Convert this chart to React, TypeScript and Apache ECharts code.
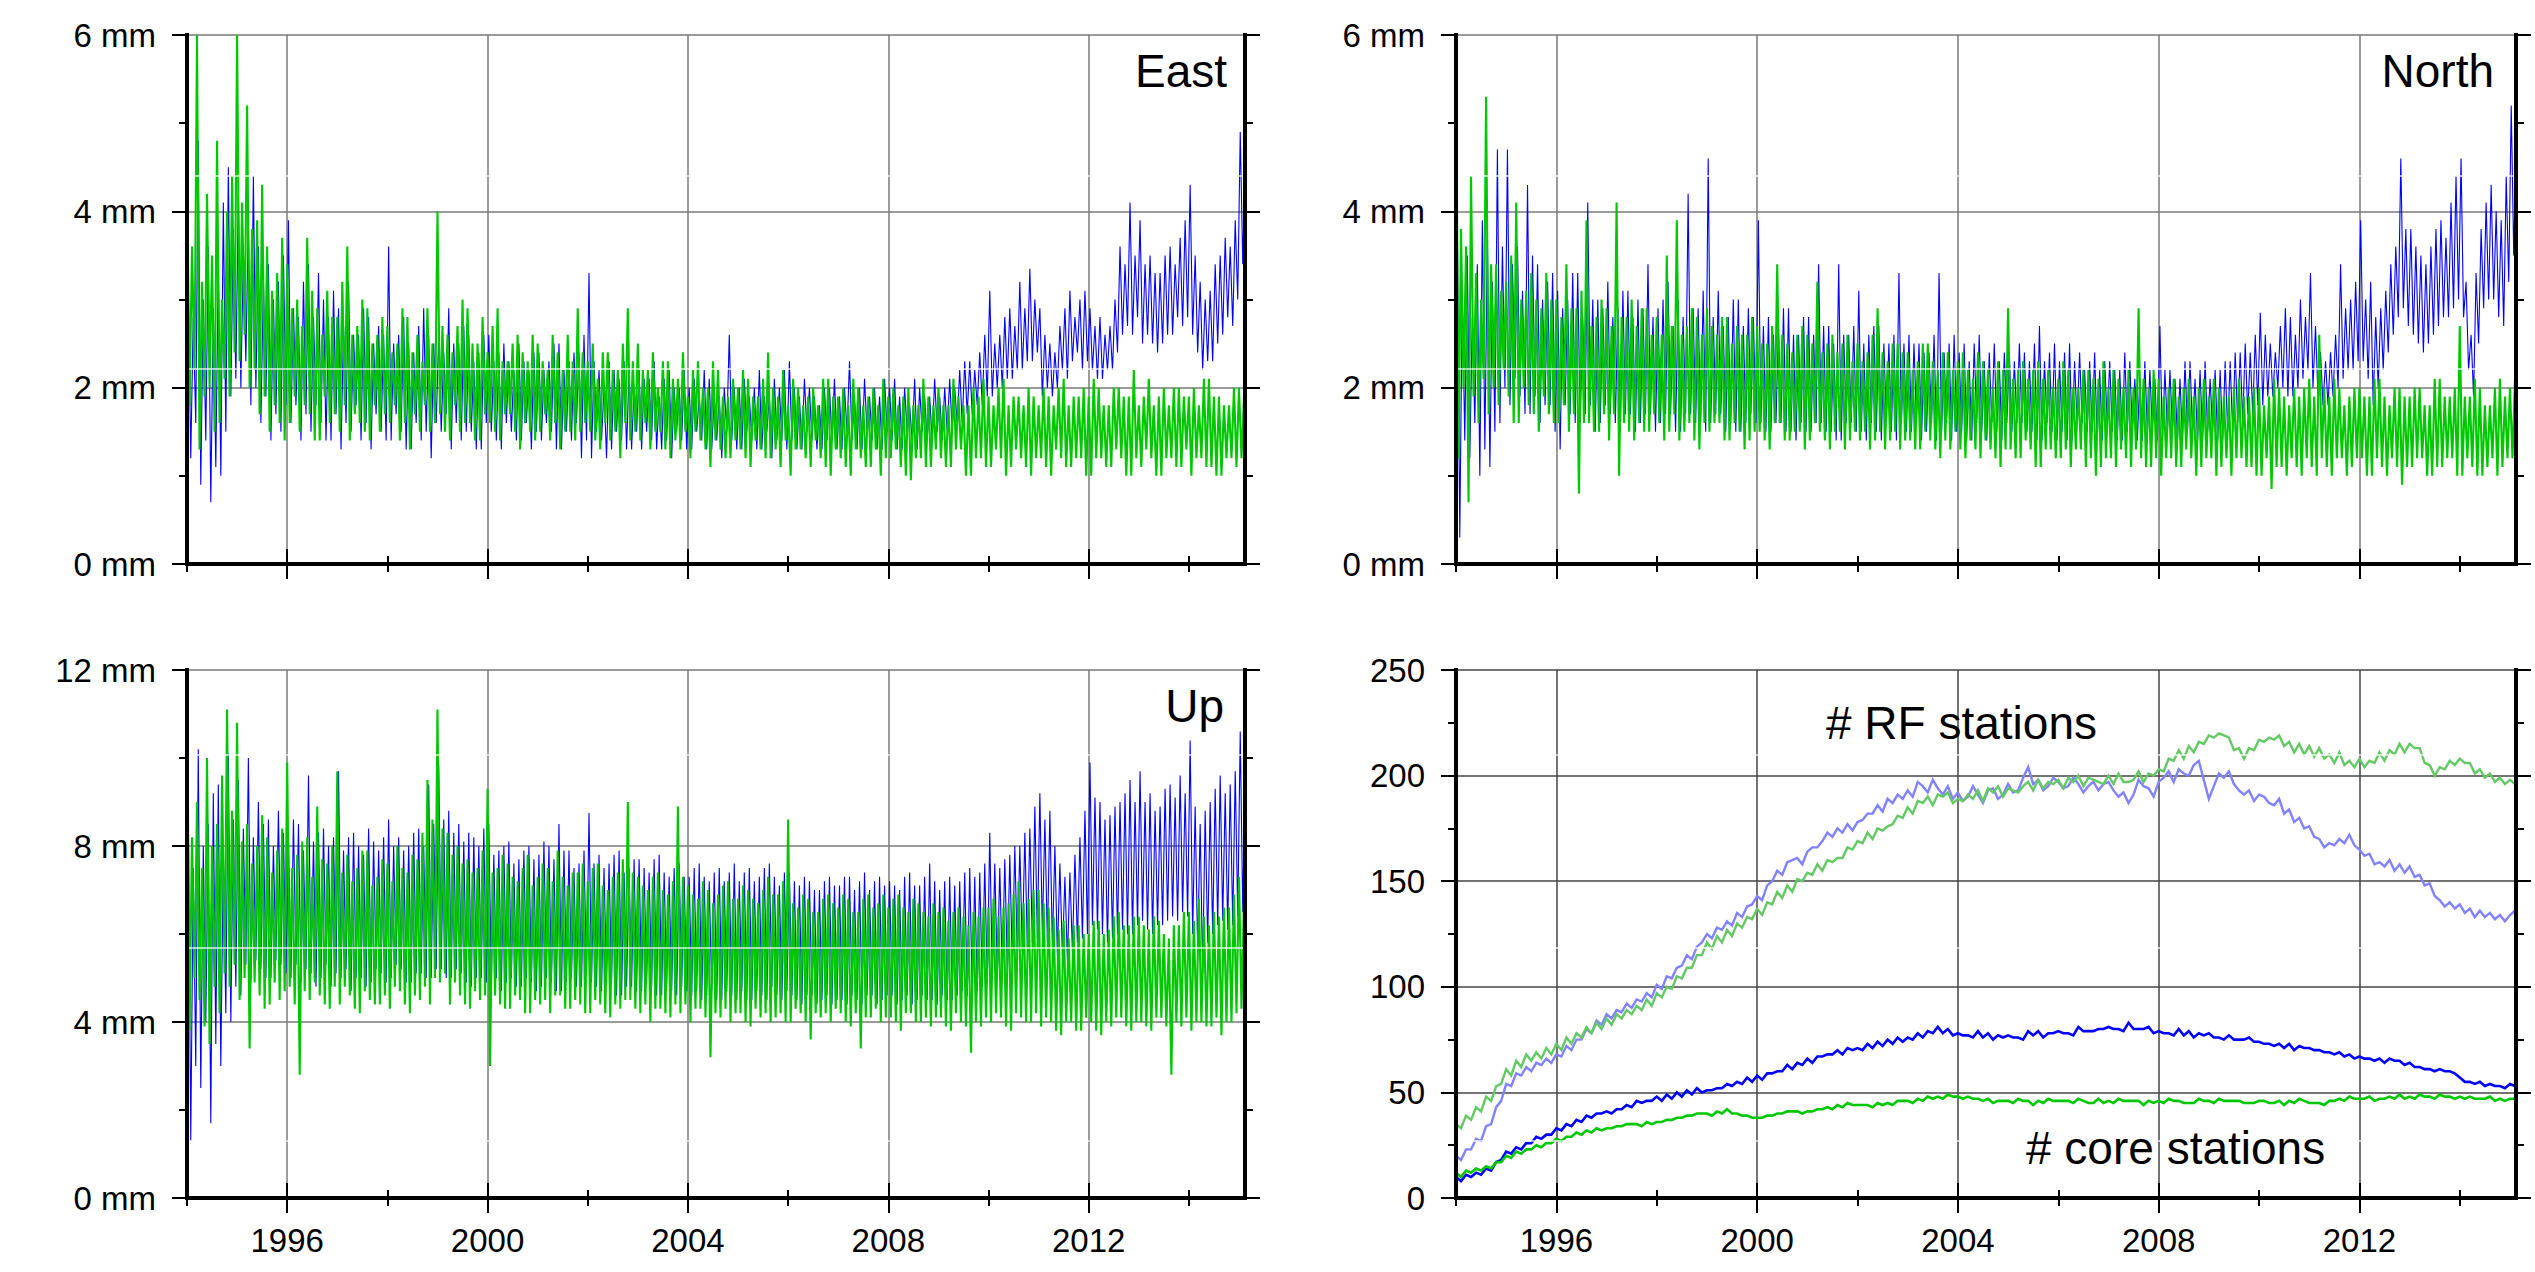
import React, { useEffect, useRef } from "react";
import * as echarts from "echarts";

const W = 2535;
const H = 1272;
const FONT = "'Liberation Sans', Arial, Helvetica, sans-serif";
const T0 = 1994;
const DT_BAND = 0.05; // step of the daily-scatter band readings
const BLUE_T0 = 1994.025;
const DT_ST = 0.1; // step of the station-count readings
const XMAX = 2015.12;
const YEAR_MAJOR = [1996, 2000, 2004, 2008, 2012];
const YEAR_MINOR = [1994, 1996, 1998, 2000, 2002, 2004, 2006, 2008, 2010, 2012, 2014];

const PANEL_TITLES = ["East", "North", "Up"];
const RF_LABEL = "# RF stations";
const CORE_LABEL = "# core stations";

// ---- daily-scatter bands, read every 0.05 yr (alternating upper / lower readings) ----
const EAST_GREEN = [
  4.5,1.8,3.6,2.2,6.0,1.3,3.2,1.9,4.2,2.0,3.5,1.5,4.8,1.6,3.0,2.1,4.0,1.9,4.4,2.4,
  6.0,2.3,4.1,2.6,5.2,2.0,3.8,2.2,3.9,1.7,4.3,1.9,3.6,1.5,3.1,1.8,3.3,1.6,3.7,1.4,
  3.4,1.6,2.9,1.9,3.0,1.5,2.7,1.8,3.7,1.7,3.1,1.4,2.9,1.4,2.6,1.9,3.1,1.6,2.8,1.7,
  2.8,1.5,3.2,1.8,3.6,1.4,2.6,1.7,2.7,1.6,3.0,1.5,2.9,1.4,2.5,1.8,2.6,1.5,2.8,1.7,
  2.7,1.6,2.4,1.8,2.5,1.4,2.9,1.6,2.8,1.3,2.4,1.7,2.6,1.5,2.3,1.8,2.9,1.5,2.5,1.6,
  4.0,1.7,2.7,1.5,2.6,1.4,2.4,1.8,2.7,1.5,3.0,1.6,2.9,1.6,2.5,1.4,2.5,1.4,2.8,1.7,
  2.4,1.6,2.7,1.5,2.9,1.4,2.3,1.7,2.3,1.7,2.5,1.5,2.6,1.3,2.4,1.6,2.3,1.5,2.6,1.4,
  2.5,1.5,2.3,1.7,2.2,1.4,2.6,1.6,2.4,1.3,2.2,1.5,2.6,1.5,2.3,1.4,2.9,1.5,2.4,1.6,
  2.3,1.5,2.5,1.4,2.1,1.3,2.4,1.6,2.4,1.4,2.2,1.5,2.2,1.2,2.5,1.6,2.9,1.4,2.3,1.5,
  2.5,1.4,2.2,1.6,2.2,1.3,2.4,1.5,2.0,1.5,2.3,1.3,2.3,1.2,2.1,1.4,2.1,1.3,2.4,1.5,
  1.9,1.2,2.2,1.5,2.3,1.4,2.0,1.3,2.0,1.1,2.3,1.4,2.2,1.3,1.9,1.2,1.9,1.2,2.1,1.4,
  2.0,1.3,2.2,1.2,2.1,1.1,1.9,1.4,1.9,1.3,2.1,1.2,2.4,1.2,2.0,1.3,1.9,1.1,2.2,1.4,
  1.8,1.0,2.1,1.3,2.0,1.3,1.8,1.2,1.9,1.1,2.0,1.4,1.8,1.2,2.1,1.1,2.1,1.0,1.9,1.3,
  1.9,1.2,2.0,1.1,1.8,1.0,2.1,1.3,2.0,1.2,1.8,1.1,1.9,1.1,2.0,1.3,1.8,1.0,2.1,1.2,
  1.9,1.2,2.0,1.3,1.8,1.1,1.9,1.0,2.0,0.95,1.8,1.2,1.8,1.2,2.1,1.1,1.9,1.1,1.8,1.3,
  2.0,1.2,1.8,1.1,1.8,1.1,2.1,1.3,1.9,1.3,1.8,1.0,1.8,1.0,2.0,1.2,1.9,1.2,2.1,1.1,
  1.9,1.1,1.8,1.3,2.0,1.2,2.1,1.0,1.8,1.1,1.9,1.3,1.9,1.2,1.8,1.1,2.0,1.0,1.9,1.2,
  1.8,1.2,2.0,1.1,1.9,1.0,1.8,1.3,2.0,1.2,2.1,1.1,1.8,1.1,1.9,1.2,1.9,1.2,2.0,1.0,
  1.9,1.0,2.1,1.2,2.0,1.2,1.8,1.1,1.8,1.1,2.0,1.3,2.0,1.2,1.9,1.0,1.9,1.0,2.2,1.2,
  1.8,1.1,1.9,1.3,2.1,1.2,1.8,1.0,1.9,1.0,2.0,1.2,1.8,1.2,2.0,1.1,2.0,1.1,1.9,1.3,
  1.9,1.0,2.0,1.2,1.8,1.2,2.1,1.1,2.1,1.1,1.9,1.0,1.9,1.0,1.8,1.2,1.8,1.2,2.0,1.1,
  2.0,1.2,1.9,
];
const EAST_BLUE = [
  3.2,1.2,2.8,1.6,4.8,0.9,3.0,1.4,3.6,0.7,2.9,1.1,3.4,1.0,4.1,1.5,4.5,1.9,3.8,2.1,
  4.2,2.0,3.5,2.3,3.9,1.8,4.4,2.0,3.6,1.6,3.2,1.9,3.4,1.4,3.0,1.7,3.2,1.5,3.5,1.8,
  3.9,1.6,2.9,1.8,2.8,1.4,3.2,1.7,3.4,1.5,2.8,1.8,3.3,1.6,3.0,1.4,2.8,1.4,3.1,1.7,
  2.9,1.3,2.7,1.6,3.2,1.5,2.6,1.8,2.6,1.4,2.9,1.6,2.8,1.3,2.5,1.7,2.7,1.5,2.6,1.4,
  3.6,1.4,2.5,1.7,2.6,1.5,2.8,1.3,2.5,1.3,2.4,1.6,2.7,1.4,2.9,1.5,2.6,1.2,2.5,1.6,
  2.6,1.5,2.4,1.7,2.9,1.3,2.5,1.6,2.5,1.4,2.7,1.5,2.6,1.5,2.3,1.3,2.4,1.3,2.6,1.6,
  2.6,1.5,2.3,1.4,2.4,1.3,2.5,1.6,2.3,1.5,2.2,1.4,2.5,1.4,2.3,1.6,2.2,1.3,2.4,1.5,
  2.4,1.4,2.2,1.6,2.3,1.5,2.5,1.3,2.5,1.3,2.2,1.5,2.3,1.4,2.4,1.6,2.4,1.2,2.6,1.4,
  3.3,1.2,2.3,1.5,2.2,1.4,2.0,1.2,2.3,1.3,2.2,1.5,2.1,1.4,2.3,1.3,2.2,1.3,2.0,1.5,
  2.2,1.3,2.1,1.5,2.1,1.4,2.3,1.3,1.9,1.3,2.1,1.4,2.2,1.2,2.0,1.5,2.0,1.4,2.2,1.3,
  2.0,1.3,2.1,1.5,1.9,1.4,2.2,1.3,2.1,1.3,1.9,1.4,1.9,1.2,2.0,1.5,2.6,1.4,2.0,1.3,
  2.0,1.3,2.1,1.5,1.9,1.4,2.0,1.3,2.2,1.3,1.9,1.5,1.9,1.2,2.1,1.4,2.0,1.4,2.2,1.3,
  2.3,1.4,2.0,1.3,1.9,1.3,2.1,1.5,2.0,1.4,1.9,1.3,1.8,1.3,2.0,1.4,2.0,1.4,2.1,1.3,
  1.9,1.3,2.0,1.5,2.3,1.4,1.9,1.3,2.0,1.3,2.1,1.5,1.9,1.4,2.0,1.3,1.9,1.3,2.1,1.5,
  2.0,1.4,2.1,1.3,1.9,1.3,2.0,1.5,1.8,1.4,2.1,1.3,2.0,1.5,1.9,1.4,1.9,1.4,2.1,1.5,
  1.9,1.4,2.0,1.5,2.1,1.5,2.0,1.6,2.2,1.6,2.3,1.7,2.3,1.7,2.2,1.8,2.4,1.8,2.6,1.9,
  3.1,1.9,2.5,2.0,2.6,2.0,2.8,2.1,2.9,2.1,2.7,2.2,3.2,2.2,2.9,2.3,3.35,2.3,3.0,2.4,
  2.9,1.9,2.6,2.0,2.5,1.9,2.4,2.0,2.7,2.2,2.9,2.1,3.1,2.3,2.8,2.4,3.0,2.2,3.1,2.3,
  2.9,2.2,2.7,2.1,2.8,2.1,2.6,2.2,2.7,2.2,3.0,2.4,3.6,2.6,3.4,2.7,4.1,2.6,3.5,2.8,
  3.9,2.5,3.4,2.6,3.5,2.5,3.3,2.4,3.3,2.5,3.5,2.6,3.6,2.6,3.4,2.8,3.7,2.7,3.9,2.8,
  4.3,2.6,3.5,2.4,3.2,2.2,3.0,2.3,3.1,2.3,3.4,2.5,3.5,2.6,3.7,2.8,3.6,2.7,3.9,3.0,
  4.9,3.4,4.6,
];
const NORTH_GREEN = [
  6.0,1.2,3.8,2.0,3.6,0.7,4.4,1.9,3.3,1.6,3.0,2.1,5.3,1.7,3.4,2.0,3.4,1.8,3.1,2.2,
  3.2,1.9,3.5,1.6,4.1,1.6,3.0,2.0,3.1,1.8,3.3,1.7,3.0,1.5,2.9,1.9,3.3,1.7,3.0,1.6,
  3.0,1.6,2.8,1.8,3.4,1.5,2.9,1.7,2.9,0.8,3.1,1.6,3.9,1.6,2.7,1.5,2.8,1.5,3.0,1.7,
  2.9,1.4,2.7,1.7,4.1,1.0,2.8,1.6,2.8,1.5,3.0,1.4,2.7,1.6,2.9,1.5,2.9,1.5,2.6,1.7,
  2.8,1.6,2.6,1.4,3.5,1.5,2.7,1.7,3.9,1.4,2.6,1.5,2.7,1.6,2.9,1.4,2.8,1.3,2.6,1.6,
  2.9,1.5,2.7,1.6,2.6,1.6,2.8,1.4,2.8,1.4,2.5,1.6,2.7,1.5,2.6,1.3,2.6,1.4,2.8,1.5,
  2.7,1.5,2.5,1.4,2.5,1.3,2.7,1.6,3.4,1.6,2.6,1.4,2.5,1.4,2.4,1.5,2.6,1.5,2.7,1.3,
  2.6,1.4,2.5,1.6,3.2,1.5,2.4,1.4,2.5,1.3,2.6,1.5,2.4,1.5,2.5,1.3,2.6,1.4,2.3,1.5,
  2.5,1.4,2.3,1.5,2.4,1.3,2.6,1.4,2.9,1.5,2.4,1.3,2.3,1.4,2.5,1.5,2.5,1.3,2.4,1.4,
  2.4,1.4,2.2,1.3,2.3,1.3,2.5,1.5,2.5,1.4,2.3,1.3,2.2,1.2,2.4,1.4,2.4,1.3,2.2,1.5,
  2.3,1.3,2.4,1.2,2.2,1.4,2.1,1.3,2.4,1.2,2.3,1.4,2.2,1.3,2.0,1.2,2.3,1.1,2.2,1.3,
  2.9,1.3,2.1,1.2,2.2,1.2,2.3,1.4,2.1,1.3,2.2,1.1,2.3,1.1,2.1,1.3,2.2,1.3,2.0,1.2,
  2.1,1.2,2.3,1.3,2.2,1.1,2.0,1.3,2.0,1.3,2.2,1.1,2.2,1.2,2.1,1.0,2.1,1.1,2.3,1.2,
  2.0,1.2,2.2,1.1,2.1,1.3,2.0,1.2,2.2,1.1,2.0,1.3,2.9,1.2,2.1,1.1,2.0,1.1,2.2,1.2,
  2.1,1.0,1.9,1.2,2.0,1.2,2.1,1.1,1.9,1.1,2.0,1.3,2.1,1.2,1.9,1.0,2.0,1.1,2.1,1.2,
  1.9,1.2,2.1,1.0,2.0,1.1,1.9,1.2,1.9,1.0,2.0,1.2,2.1,1.2,1.9,1.1,1.9,1.1,2.0,1.0,
  2.0,1.0,1.8,1.2,1.9,0.85,2.1,1.1,2.0,1.1,1.9,1.0,1.8,1.2,2.0,1.1,1.9,1.0,2.0,1.2,
  2.1,1.1,1.9,1.0,2.6,1.2,2.0,1.1,1.9,1.0,2.1,1.2,2.0,1.2,1.8,1.0,1.9,1.1,2.0,1.2,
  2.0,1.2,1.9,1.0,1.9,1.0,2.1,1.2,2.1,1.1,1.9,1.0,1.8,1.2,2.0,1.1,2.0,0.9,1.9,1.1,
  1.9,1.1,2.0,1.2,2.0,1.2,1.8,1.0,1.8,1.0,2.1,1.1,2.1,1.1,1.9,1.2,1.9,1.2,2.0,1.0,
  2.7,1.0,1.9,1.2,1.9,1.1,2.1,1.0,2.0,1.0,1.8,1.1,1.8,1.2,2.0,1.0,2.1,1.1,1.9,1.2,
  2.0,1.2,2.1,
];
const NORTH_BLUE = [
  4.0,0.3,3.1,1.4,3.5,1.2,2.8,1.6,3.4,1.0,3.9,1.3,3.7,1.1,3.2,1.5,4.7,1.6,3.6,2.0,
  4.7,1.8,3.4,2.1,3.6,1.9,3.1,1.7,4.3,1.7,3.5,1.9,3.4,1.6,3.0,1.8,3.2,1.8,3.3,1.5,
  3.1,1.3,2.9,1.8,3.0,1.7,3.3,1.6,3.3,1.6,2.8,1.7,4.1,1.8,3.0,1.5,3.0,1.6,2.9,1.8,
  3.2,1.7,2.8,1.6,2.9,1.5,3.1,1.7,3.1,1.7,2.8,1.5,3.0,1.6,2.9,1.7,3.4,1.7,2.8,1.5,
  2.9,1.6,3.0,1.7,3.2,1.7,2.7,1.5,3.0,1.5,2.8,1.7,4.2,1.7,2.9,1.6,2.9,1.6,3.1,1.5,
  4.6,1.6,2.8,1.7,3.1,1.7,2.7,1.5,2.8,1.6,3.0,1.5,3.0,1.5,2.7,1.6,2.9,1.7,2.8,1.6,
  3.9,1.6,2.7,1.5,2.8,1.5,2.6,1.6,2.7,1.6,2.9,1.5,2.9,1.5,2.6,1.4,2.6,1.6,2.8,1.5,
  2.8,1.5,2.6,1.6,3.4,1.6,2.7,1.5,2.7,1.5,2.5,1.4,3.4,1.4,2.6,1.6,2.6,1.6,2.7,1.5,
  3.1,1.5,2.5,1.4,2.6,1.6,2.7,1.5,2.7,1.4,2.5,1.6,2.5,1.5,2.6,1.4,3.3,1.6,2.5,1.5,
  2.6,1.5,2.5,1.6,2.5,1.4,2.4,1.5,2.4,1.6,2.6,1.4,3.3,1.5,2.4,1.6,2.5,1.4,2.6,1.5,
  2.4,1.5,2.5,1.4,2.3,1.4,2.5,1.6,2.6,1.5,2.3,1.4,2.4,1.6,2.5,1.5,2.3,1.4,2.4,1.6,
  2.4,1.5,2.3,1.6,2.5,1.6,2.4,1.5,2.3,1.5,2.5,1.4,2.7,1.4,2.3,1.6,2.4,1.5,2.5,1.4,
  2.3,1.5,2.4,1.4,2.5,1.4,2.3,1.6,2.4,1.6,2.2,1.5,2.3,1.5,2.4,1.4,2.2,1.4,2.3,1.6,
  2.3,1.5,2.2,1.4,2.2,1.4,2.4,1.5,2.3,1.5,2.1,1.4,2.1,1.4,2.3,1.5,2.2,1.5,2.1,1.4,
  2.7,1.4,2.2,1.5,2.2,1.5,2.1,1.4,2.1,1.4,2.3,1.5,2.3,1.5,2.1,1.4,2.2,1.4,2.3,1.5,
  2.1,1.5,2.2,1.4,2.2,1.4,2.3,1.5,2.3,1.5,2.4,1.6,2.4,1.6,2.5,1.7,2.4,1.7,2.6,1.8,
  2.85,1.8,2.6,1.9,2.5,1.9,2.4,2.0,2.7,2.0,2.9,1.9,2.8,1.9,2.6,2.0,3.0,2.1,2.8,2.2,
  3.3,2.0,2.7,1.9,2.4,1.8,2.3,1.8,2.4,1.9,2.6,2.0,3.4,2.1,2.9,2.2,3.0,2.2,3.2,2.3,
  3.9,2.3,3.0,2.1,3.2,1.8,2.8,2.0,2.9,2.2,3.1,2.4,3.4,2.6,3.6,2.8,4.6,2.9,3.8,2.7,
  3.8,2.6,3.6,2.5,3.5,2.4,3.4,2.5,3.6,2.6,3.8,2.7,3.9,2.8,3.7,2.8,4.1,2.9,4.4,3.0,
  4.6,2.8,3.2,2.2,2.6,1.9,3.3,2.5,3.8,2.9,4.1,3.0,4.3,3.0,4.0,2.8,3.9,2.7,4.4,3.2,
  5.2,3.5,4.8,
];
const UP_GREEN = [
  12.0,3.8,8.2,5.0,9.0,4.5,7.5,3.9,10.0,3.5,8.0,4.8,8.5,4.2,9.6,5.1,11.1,4.8,8.8,5.3,
  10.8,4.5,8.1,5.0,8.5,3.4,7.6,4.9,8.0,4.6,8.7,4.3,8.2,4.4,7.4,4.9,7.9,4.5,8.4,4.7,
  9.9,4.8,7.5,4.4,7.8,2.8,8.1,4.7,8.2,4.5,7.3,4.9,8.9,4.6,7.7,4.4,7.6,4.3,8.0,4.8,
  9.7,4.4,7.4,4.8,7.8,4.6,7.2,4.3,7.5,4.2,7.9,4.7,7.9,4.5,7.1,4.4,7.3,4.4,7.7,4.6,
  7.6,4.3,7.2,4.8,8.0,4.7,7.5,4.4,7.4,4.2,7.8,4.6,7.7,4.5,8.3,4.8,9.5,4.4,8.6,5.0,
  11.1,4.9,8.4,5.1,8.3,4.4,7.8,4.9,8.0,4.6,7.6,4.4,7.7,4.3,7.4,4.7,7.5,4.5,7.9,4.6,
  9.3,3.0,7.4,4.6,7.5,4.4,7.8,4.3,7.6,4.3,7.3,4.6,7.2,4.5,7.5,4.2,7.8,4.2,7.1,4.5,
  7.3,4.4,7.6,4.5,7.5,4.2,7.2,4.6,7.9,4.6,7.3,4.3,7.1,4.3,7.4,4.5,7.4,4.4,7.6,4.2,
  7.2,4.2,7.5,4.5,7.6,4.4,7.1,4.2,7.0,4.1,7.3,4.4,7.4,4.3,7.7,4.5,9.0,4.5,7.4,4.3,
  7.3,4.2,7.1,4.4,7.0,4.0,7.3,4.3,7.4,4.3,7.0,4.2,6.9,4.1,7.2,4.4,8.9,4.2,7.3,4.4,
  7.1,4.0,6.9,4.3,6.8,4.3,7.2,4.1,7.0,3.2,6.7,4.2,6.9,4.1,7.1,4.3,7.2,4.0,6.8,4.2,
  6.8,4.2,7.1,4.0,7.0,3.9,6.8,4.3,6.7,4.1,7.0,4.2,7.3,4.0,6.9,4.1,6.9,4.2,7.2,4.0,
  8.6,4.0,6.7,4.3,6.6,4.2,6.9,4.0,6.8,3.6,6.5,4.2,6.5,4.1,6.8,4.2,6.9,4.0,6.7,4.3,
  6.6,4.2,6.9,4.0,6.8,3.9,6.5,4.2,6.5,3.4,6.8,4.1,6.9,4.1,6.6,4.3,6.7,4.0,6.9,4.1,
  6.6,4.1,6.8,4.0,6.9,3.8,6.6,4.2,6.5,4.2,6.8,4.0,6.7,4.0,6.5,4.1,6.4,3.9,6.7,4.1,
  6.5,4.1,6.6,3.9,6.3,3.8,6.5,4.2,6.6,4.0,6.4,3.9,6.2,3.3,6.5,4.0,6.4,3.9,6.6,4.1,
  6.6,4.0,6.8,4.2,6.4,4.1,6.6,3.9,6.7,3.8,6.9,4.2,7.2,4.1,6.7,4.0,6.8,4.0,7.0,4.2,
  7.0,3.9,6.7,4.1,6.6,4.0,6.4,3.8,6.1,3.7,6.3,4.0,5.9,4.0,6.2,3.8,6.2,3.8,6.0,4.1,
  6.0,4.0,6.3,3.8,6.3,3.7,6.0,4.0,6.1,3.9,6.4,4.1,6.5,4.1,6.2,3.9,6.2,3.8,6.4,4.0,
  6.4,4.0,6.2,3.9,6.1,3.8,6.4,4.1,6.3,4.1,6.0,3.9,5.9,2.8,6.2,4.0,6.2,3.9,6.5,4.1,
  6.5,3.8,6.3,4.0,6.8,4.0,6.4,3.9,6.2,3.9,6.5,4.1,6.4,3.7,6.6,4.0,6.6,4.0,6.9,4.2,
  7.3,4.3,6.8,
];
const UP_BLUE = [
  9.0,1.3,7.5,3.0,10.2,2.5,8.0,4.0,8.5,1.7,9.2,3.5,9.4,3.0,7.8,4.2,10.1,4.0,8.6,4.8,
  9.5,4.6,8.4,5.3,10.0,4.9,8.2,5.4,9.0,5.2,8.5,5.0,8.6,5.0,8.0,5.4,8.8,5.3,8.3,5.1,
  8.2,5.0,8.6,5.3,8.5,4.9,7.9,5.2,9.6,5.1,8.1,4.8,8.3,5.0,8.4,5.3,8.0,4.8,8.2,5.1,
  9.7,5.0,7.9,5.2,8.2,4.7,8.3,5.0,8.0,5.0,7.8,4.8,8.4,4.9,8.1,5.2,7.9,5.1,8.2,4.9,
  8.6,5.0,8.0,5.3,8.2,5.2,7.9,4.9,8.0,4.9,8.3,5.1,8.4,5.1,8.0,5.0,9.4,5.0,8.5,5.2,
  9.85,5.2,8.6,5.0,8.8,5.0,8.3,5.2,8.5,5.1,8.1,4.9,8.3,4.8,8.2,5.0,8.0,5.0,8.4,4.9,
  8.5,4.9,7.8,5.0,7.9,4.7,8.0,4.9,8.1,5.0,7.6,4.8,7.7,4.8,7.9,5.0,8.0,4.9,7.7,4.7,
  7.8,4.8,8.1,5.0,8.0,4.9,7.7,4.7,8.5,4.7,7.9,4.9,7.9,5.0,7.5,4.8,7.6,4.8,7.9,5.0,
  8.75,4.9,7.6,4.8,7.8,4.7,7.5,4.9,7.6,4.9,7.8,4.6,7.9,4.6,7.4,4.8,7.5,4.8,7.7,4.7,
  7.7,4.7,7.5,4.9,7.4,4.8,7.7,4.6,7.8,4.6,7.4,4.8,7.3,4.7,7.5,4.6,7.6,4.8,7.3,4.7,
  7.3,4.6,7.5,4.7,7.6,4.5,7.3,4.6,7.2,4.7,7.4,4.5,7.5,4.5,7.2,4.7,7.4,4.6,7.6,4.5,
  7.2,4.7,7.4,4.5,7.5,4.5,7.2,4.7,7.3,4.6,7.5,4.5,7.6,4.8,7.3,4.6,7.1,4.5,7.4,4.7,
  7.4,4.6,7.2,4.5,7.1,4.4,7.3,4.6,7.2,4.6,7.0,4.4,7.0,4.5,7.2,4.6,7.3,4.4,7.1,4.5,
  7.1,4.5,7.3,4.4,7.3,4.6,7.0,4.5,7.2,4.4,7.4,4.6,7.0,4.6,7.2,4.4,7.3,4.5,7.1,4.6,
  7.2,4.6,7.1,4.4,7.0,4.5,7.3,4.6,7.4,4.4,7.1,4.5,7.1,4.6,7.3,4.5,7.6,4.5,7.2,4.4,
  7.0,4.6,7.2,4.5,7.3,4.5,7.1,4.6,7.2,4.7,7.4,4.6,7.5,4.6,7.3,4.7,7.4,4.8,7.6,4.9,
  8.3,5.0,7.6,5.1,7.5,5.1,7.7,5.2,7.8,5.3,8.0,5.5,8.0,5.6,8.3,5.7,8.4,5.8,8.9,5.9,
  9.2,6.0,8.6,5.8,8.8,5.7,8.0,5.5,7.6,5.5,7.3,5.4,7.4,5.6,7.8,5.8,8.2,5.9,8.8,6.0,
  9.9,6.2,9.1,6.1,9.0,6.0,8.6,5.8,8.7,5.9,8.9,6.0,9.0,6.1,9.2,6.0,9.5,6.0,9.0,6.2,
  9.7,6.3,9.0,6.1,9.2,6.0,8.8,6.2,8.9,6.2,9.3,6.3,9.4,6.4,9.1,6.3,9.6,6.5,9.2,6.4,
  10.4,6.0,8.9,5.6,8.5,5.1,8.8,5.8,9.0,6.0,9.3,6.2,9.6,6.3,9.2,6.1,9.4,6.2,9.7,6.4,
  10.6,6.5,9.8,
];

// ---- station counts, read every 0.1 yr ----
const RF_BLUE = [
  20,18,23,23,28,27,34,35,43,46,
  54,53,59,58,62,60,64,63,66,64,
  68,67,72,70,75,75,80,78,84,82,
  87,85,89,88,92,90,94,93,97,95,
  101,99,105,104,109,110,115,113,119,121,
  125,123,128,127,131,129,135,133,138,139,
  143,141,148,150,155,153,159,160,161,158,
  164,166,166,169,173,171,175,173,177,174,
  178,179,182,182,186,183,189,187,191,189,
  193,190,197,195,192,198,194,191,195,189,
  192,188,190,195,191,187,193,194,189,191,
  196,192,193,199,204,196,198,193,195,199,
  197,194,195,199,196,192,195,197,193,196,
  197,193,190,192,187,191,198,195,194,190,
  197,199,202,197,203,201,200,205,207,198,
  189,195,201,199,202,196,193,191,193,188,
  191,190,187,186,189,182,184,178,180,175,
  176,171,170,166,168,167,170,168,172,167,
  165,162,163,158,159,157,160,155,158,154,
  157,152,153,148,149,143,141,138,140,137,
  139,135,137,133,136,133,135,132,134,131,
  134,136,
];
const RF_GREEN = [
  35,33,39,37,43,41,48,46,53,54,
  61,58,65,62,68,65,69,66,71,68,
  73,70,76,73,78,76,81,78,83,80,
  85,82,87,85,89,87,91,89,94,91,
  97,95,100,99,105,104,109,109,115,115,
  121,118,124,121,127,124,130,128,133,132,
  137,134,140,139,145,142,148,145,151,150,
  154,153,158,155,160,159,161,161,166,165,
  169,168,173,170,175,174,176,177,181,180,
  185,182,188,187,190,186,191,190,192,187,
  189,188,191,189,193,188,194,192,195,190,
  194,193,192,195,197,193,198,194,197,196,
  198,194,199,197,200,195,199,198,197,196,
  200,196,201,197,197,198,202,197,201,200,
  203,202,208,207,212,208,214,211,216,215,
  219,218,220,219,218,212,213,208,213,212,
  217,216,218,217,219,214,216,211,215,210,
  214,209,213,208,210,206,211,205,207,204,
  208,204,207,206,211,207,212,210,215,211,
  215,213,213,206,205,200,204,203,207,205,
  208,206,206,201,203,199,201,197,199,196,
  198,196,
];
const CORE_BLUE = [
  10,8,11,10,12,11,14,13,17,18,
  22,21,24,23,26,26,29,28,30,30,
  33,32,35,34,37,36,39,38,40,40,
  41,40,42,42,44,43,46,45,46,46,
  48,46,49,47,50,48,51,49,52,50,
  51,51,52,52,54,53,55,54,57,55,
  58,56,59,59,60,60,63,61,64,63,
  66,64,67,67,68,68,70,68,71,70,
  71,70,73,71,74,72,75,73,76,74,
  76,75,78,76,79,78,81,78,80,77,
  78,77,77,76,79,76,78,75,77,76,
  77,76,76,75,79,77,79,76,78,78,
  79,78,78,77,81,79,79,79,80,80,
  81,80,80,79,83,80,80,80,81,78,
  79,78,78,77,80,77,79,76,78,77,
  78,76,76,75,77,75,75,75,76,74,
  74,73,73,72,73,71,73,70,72,71,
  71,70,70,69,69,68,69,67,68,66,
  67,66,66,65,66,64,66,65,65,63,
  64,62,62,61,61,60,61,60,60,59,
  57,55,55,54,55,53,54,53,53,52,
  54,53,
];
const CORE_GREEN = [
  12,10,13,12,14,13,15,14,17,17,
  20,19,22,21,23,23,25,24,26,26,
  28,27,29,29,31,30,32,31,33,32,
  33,33,34,34,35,35,35,34,36,35,
  36,36,37,37,38,38,39,39,40,40,
  40,39,41,40,42,40,40,39,39,38,
  38,38,39,39,40,40,41,41,41,40,
  41,41,42,42,43,42,44,43,45,44,
  44,44,44,43,45,44,45,44,46,46,
  46,45,47,46,48,47,48,47,49,48,
  48,47,48,47,47,46,47,45,46,46,
  46,45,47,46,46,44,46,45,47,46,
  46,46,46,45,47,46,45,45,47,45,
  46,45,47,46,46,46,46,44,46,45,
  46,45,47,46,46,45,45,45,47,46,
  46,45,47,46,46,46,46,45,45,45,
  46,46,45,45,46,44,46,45,47,46,
  45,45,45,44,46,46,47,46,48,47,
  47,47,48,46,47,47,48,47,49,47,
  48,47,49,48,48,47,49,48,48,47,
  48,47,48,47,47,47,48,46,47,46,
  47,47,
];

const C_BLUE = "#0000ff";
const C_GREEN = "#00c800";
const C_LBLUE = "#8282ff";
const C_LGREEN = "#64c864";

type Panel = {
  grid: { left: number; top: number; width: number; height: number };
  yMax: number;
  yMajor: number;
  yMinor: number;
  unit: string;
  xLabels: boolean;
  gridColor: string;
  series: { data: number[]; t0: number; dt: number; color: string; width: number }[];
};

const PANELS: Panel[] = [
  {
    grid: { left: 187, top: 35, width: 1058, height: 529 },
    yMax: 6, yMajor: 2, yMinor: 1, unit: " mm", xLabels: false, gridColor: "#7a7a7a",
    series: [
      { data: EAST_BLUE, t0: BLUE_T0, dt: DT_BAND, color: C_BLUE, width: 1.1 },
      { data: EAST_GREEN, t0: T0, dt: DT_BAND, color: C_GREEN, width: 2.1 },
    ],
  },
  {
    grid: { left: 1456, top: 35, width: 1060, height: 529 },
    yMax: 6, yMajor: 2, yMinor: 1, unit: " mm", xLabels: false, gridColor: "#7a7a7a",
    series: [
      { data: NORTH_BLUE, t0: BLUE_T0, dt: DT_BAND, color: C_BLUE, width: 1.1 },
      { data: NORTH_GREEN, t0: T0, dt: DT_BAND, color: C_GREEN, width: 2.1 },
    ],
  },
  {
    grid: { left: 187, top: 670, width: 1058, height: 528 },
    yMax: 12, yMajor: 4, yMinor: 2, unit: " mm", xLabels: true, gridColor: "#7a7a7a",
    series: [
      { data: UP_BLUE, t0: BLUE_T0, dt: DT_BAND, color: C_BLUE, width: 1.1 },
      { data: UP_GREEN, t0: T0, dt: DT_BAND, color: C_GREEN, width: 2.1 },
    ],
  },
  {
    grid: { left: 1456, top: 670, width: 1060, height: 528 },
    yMax: 250, yMajor: 50, yMinor: 25, unit: "", xLabels: true, gridColor: "#444444",
    series: [
      { data: RF_BLUE, t0: T0, dt: DT_ST, color: C_LBLUE, width: 2.4 },
      { data: RF_GREEN, t0: T0, dt: DT_ST, color: C_LGREEN, width: 2.4 },
      { data: CORE_BLUE, t0: T0, dt: DT_ST, color: C_BLUE, width: 2.6 },
      { data: CORE_GREEN, t0: T0, dt: DT_ST, color: C_GREEN, width: 2.6 },
    ],
  },
];

const SEAMS_TOP = [176, 369];
const SEAMS_BOTTOM = [755, 948, 1141];

function buildOption() {
  const grids: any[] = [];
  const xAxes: any[] = [];
  const yAxes: any[] = [];
  const series: any[] = [];
  const graphics: any[] = [];
  const black = { color: "#000", width: 2 };
  const frame = { color: "#000", width: 4, cap: "square" };

  PANELS.forEach((p, g) => {
    grids.push({ ...p.grid, show: false, containLabel: false, outerBoundsMode: "none" });
    const baseX = { gridIndex: g, type: "value", min: T0, max: XMAX, splitLine: { show: false } };
    xAxes.push({
      ...baseX, position: "bottom", z: 0,
      axisLine: { show: false },
      axisTick: { show: true, customValues: YEAR_MAJOR, length: 15, lineStyle: black },
      axisLabel: {
        show: p.xLabels, customValues: YEAR_MAJOR, formatter: (v: number) => String(Math.round(v)),
        fontSize: 33, fontFamily: FONT, color: "#000", margin: 26,
      },
      splitLine: { show: true, lineStyle: { color: p.gridColor, width: 1.5 } },
    });
    xAxes.push({
      ...baseX, position: "bottom", z: 10,
      axisLine: { show: true, lineStyle: frame },
      axisTick: { show: true, customValues: YEAR_MINOR, length: 8, lineStyle: black },
      axisLabel: { show: false },
    });
    xAxes.push({
      ...baseX, position: "top", z: 10,
      axisLine: { show: true, lineStyle: frame },
      axisTick: { show: true, customValues: YEAR_MAJOR, length: 15, lineStyle: black },
      axisLabel: { show: false },
    });
    xAxes.push({
      ...baseX, position: "top", z: 10,
      axisLine: { show: false },
      axisTick: { show: true, customValues: YEAR_MINOR, length: 8, lineStyle: black },
      axisLabel: { show: false },
    });

    const baseY = { gridIndex: g, type: "value", min: 0, max: p.yMax, splitLine: { show: false } };
    yAxes.push({
      ...baseY, position: "left", interval: p.yMajor, z: 0,
      axisLine: { show: false },
      axisTick: { show: true, length: 15, lineStyle: black },
      axisLabel: {
        show: true, formatter: (v: number) => `${v}${p.unit}`,
        fontSize: 33, fontFamily: FONT, color: "#000", margin: 31,
      },
      splitLine: { show: true, lineStyle: { color: p.gridColor, width: 1.5 } },
    });
    yAxes.push({
      ...baseY, position: "left", interval: p.yMinor, z: 10,
      axisLine: { show: true, lineStyle: frame },
      axisTick: { show: true, length: 8, lineStyle: black },
      axisLabel: { show: false },
    });
    yAxes.push({
      ...baseY, position: "right", interval: p.yMajor, z: 10,
      axisLine: { show: true, lineStyle: frame },
      axisTick: { show: true, length: 15, lineStyle: black },
      axisLabel: { show: false },
    });
    yAxes.push({
      ...baseY, position: "right", interval: p.yMinor, z: 10,
      axisLine: { show: false },
      axisTick: { show: true, length: 8, lineStyle: black },
      axisLabel: { show: false },
    });

    p.series.forEach((s, k) => {
      series.push({
        type: "line",
        xAxisIndex: 4 * g,
        yAxisIndex: 4 * g,
        data: s.data.map((v, i) => [s.t0 + i * s.dt, v]),
        showSymbol: false,
        symbol: "none",
        clip: true,
        silent: true,
        z: 2 + k,
        lineStyle: { color: s.color, width: s.width, join: "miter" },
        itemStyle: { color: s.color },
      });
    });

    const seams = g < 2 ? SEAMS_TOP : SEAMS_BOTTOM;
    seams.forEach((y) => {
      graphics.push({
        type: "line", z: 6, silent: true,
        shape: { x1: p.grid.left + 2, y1: y, x2: p.grid.left + p.grid.width - 2, y2: y },
        style: { stroke: "#ffffff", lineWidth: 1.5, opacity: 0.85 },
      });
    });
  });

  const titleFont = `46px ${FONT}`;
  const titlePos = [
    { x: 1227, y: 71 },
    { x: 2494, y: 71 },
    { x: 1224, y: 706 },
  ];
  PANEL_TITLES.forEach((t, i) => {
    graphics.push({
      type: "text", z: 20, silent: true, x: titlePos[i].x, y: titlePos[i].y,
      style: { text: t, font: titleFont, fill: "#000", textAlign: "right", textVerticalAlign: "middle" },
    });
  });
  graphics.push({
    type: "text", z: 20, silent: true, x: 1826, y: 723,
    style: { text: RF_LABEL, font: titleFont, fill: "#000", textAlign: "left", textVerticalAlign: "middle" },
  });
  graphics.push({
    type: "text", z: 20, silent: true, x: 2026, y: 1148,
    style: { text: CORE_LABEL, font: titleFont, fill: "#000", textAlign: "left", textVerticalAlign: "middle" },
  });

  return {
    animation: false,
    backgroundColor: "#ffffff",
    grid: grids,
    xAxis: xAxes,
    yAxis: yAxes,
    series,
    graphic: { elements: graphics },
  };
}

export default function App() {
  const ref = useRef<HTMLDivElement>(null);
  useEffect(() => {
    document.body.style.margin = "0";
    document.body.style.overflow = "hidden";
    if (!ref.current) return;
    const chart = echarts.init(ref.current, undefined, { renderer: "svg", width: W, height: H });
    chart.setOption(buildOption() as any);
    return () => chart.dispose();
  }, []);
  return <div ref={ref} style={{ position: "absolute", left: 0, top: 0, width: W, height: H }} />;
}
